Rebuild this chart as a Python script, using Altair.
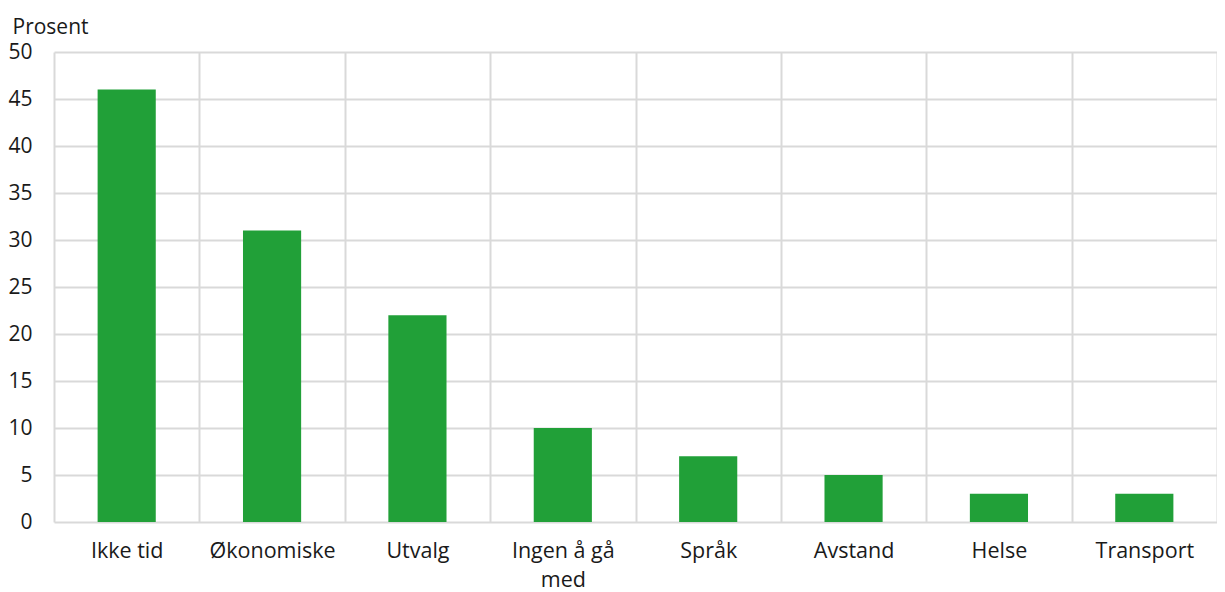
import altair as alt
import pandas as pd

categories = ["Ikke tid", "Økonomiske", "Utvalg", "Ingen å gå med", "Språk", "Avstand", "Helse", "Transport"]
values = [46, 31, 22, 10, 7, 5, 3, 3]
y_ticks = [0, 5, 10, 15, 20, 25, 30, 35, 40, 45, 50]

df = pd.DataFrame({"kategori": categories, "prosent": values})

FONT = "Open Sans"
TXT = "#1a1a1a"
GRID = "#d9d9d9"

chart = alt.Chart(df).mark_bar(
    color="#21A038", width=alt.RelativeBandSize(0.4)
).encode(
    x=alt.X(
        "kategori:N",
        sort=categories,
        scale=alt.Scale(paddingInner=0, paddingOuter=0),
        axis=alt.Axis(
            title=None,
            labelAngle=0,
            labelFont=FONT,
            labelFontSize=21.5,
            labelColor=TXT,
            labelBaseline="alphabetic",
            labelPadding=35,
            labelLineHeight=29,
            labelExpr="datum.label == 'Ingen å gå med' ? ['Ingen å gå', 'med'] : datum.label",
            ticks=False,
            domain=False,
            grid=True,
            tickBand="extent",
            gridColor=GRID,
            gridWidth=2,
        ),
    ),
    y=alt.Y(
        "prosent:Q",
        scale=alt.Scale(domain=[0, 50], nice=False),
        axis=alt.Axis(
            title="Prosent",
            titleAngle=0,
            titleAlign="left",
            titleBaseline="alphabetic",
            titleX=-42,
            titleY=-19,
            titleFont=FONT,
            titleFontSize=21,
            titleFontWeight="normal",
            titleColor=TXT,
            values=y_ticks,
            labelFont=FONT,
            labelFontSize=21,
            labelColor=TXT,
            labelPadding=22,
            ticks=False,
            domain=False,
            grid=True,
            gridColor=GRID,
            gridWidth=2,
        ),
    ),
).properties(
    width=1163,
    height=470,
    autosize=alt.AutoSizeParams(type="none"),
    padding={"left": 46, "top": 44, "right": 0, "bottom": 70},
).configure_view(stroke=None)

chart.save("out.html", embed_options={"renderer": "svg", "actions": False})
